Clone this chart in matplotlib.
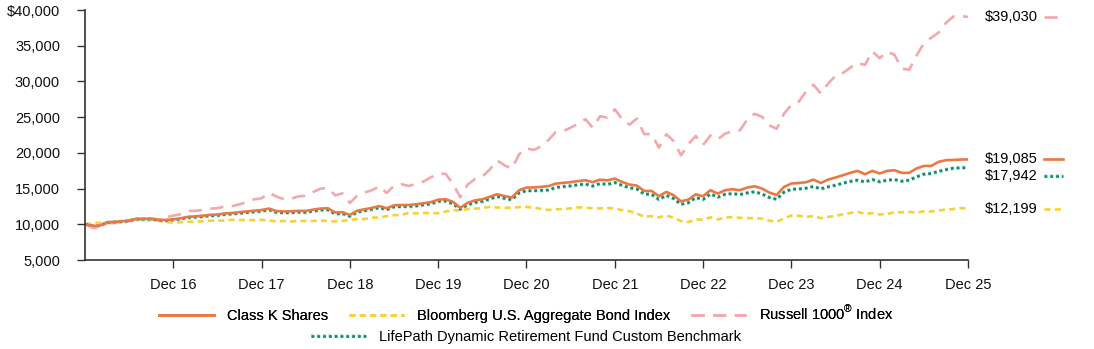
import numpy as np
import matplotlib.pyplot as plt
import matplotlib.patheffects as pe
from matplotlib.lines import Line2D

plt.rcParams['font.family'] = ['Liberation Sans', 'DejaVu Sans']
plt.rcParams['mathtext.fontset'] = 'custom'
plt.rcParams['mathtext.rm'] = 'Liberation Sans'

# month-end values, Dec 2015 .. Dec 2025
class_k = [10000,
           9780, 9800, 10280, 10340, 10400, 10540, 10780, 10780, 10790, 10640, 10600, 10700,
           10830, 11050, 11100, 11200, 11320, 11360, 11520, 11580, 11700, 11800, 11900, 12000,
           12200, 11850, 11800, 11820, 11880, 11870, 12050, 12200, 12250, 11650, 11700, 11300,
           11900, 12100, 12300, 12550, 12250, 12650, 12700, 12700, 12800, 12950, 13100, 13450,
           13500, 13150, 12300, 13000, 13350, 13500, 13850, 14200, 13950, 13750, 14770, 15140,
           15150, 15250, 15350, 15700, 15800, 15900, 16050, 16170, 15900, 16250, 16150, 16400,
           15930, 15560, 15420, 14670, 14670, 13930, 14530, 14070, 13220, 13460, 14200, 13930,
           14770, 14300, 14770, 14910, 14770, 15140, 15330, 15000, 14440, 14110, 15230, 15700,
           15790, 15890, 16260, 15790, 16260, 16550, 16870, 17200, 17480, 17010, 17480, 17110,
           17480, 17570, 17200, 17200, 17810, 18170, 18170, 18740, 18970, 19010, 19060, 19085]

bond_index = [10000,
              10138, 10210, 10304, 10343, 10346, 10532, 10598, 10587, 10580, 10500, 10251, 10265,
              10285, 10355, 10350, 10430, 10510, 10500, 10545, 10640, 10590, 10600, 10585, 10628,
              10510, 10410, 10480, 10400, 10475, 10465, 10470, 10535, 10470, 10385, 10450, 10629,
              10740, 10735, 10940, 10945, 11140, 11280, 11305, 11600, 11540, 11575, 11570, 11556,
              11780, 11990, 11920, 12130, 12190, 12270, 12450, 12350, 12340, 12285, 12410, 12424,
              12335, 12155, 12005, 12100, 12140, 12225, 12360, 12335, 12230, 12225, 12260, 12233,
              11970, 11835, 11505, 11070, 11140, 10965, 11235, 10915, 10445, 10310, 10690, 10641,
              10970, 10685, 10955, 11020, 10905, 10865, 10860, 10790, 10515, 10350, 10820, 11230,
              11200, 11040, 11140, 10860, 11050, 11150, 11410, 11580, 11740, 11450, 11570, 11370,
              11435, 11675, 11680, 11725, 11640, 11820, 11790, 11930, 12060, 12140, 12260, 12199]

russell = [10000,
           9504, 9492, 10135, 10175, 10358, 10385, 10768, 10783, 10785, 10589, 10981, 11205,
           11418, 11871, 11885, 12008, 12177, 12253, 12505, 12544, 12802, 13100, 13502, 13635,
           14416, 13884, 13531, 13582, 13910, 13996, 14517, 14990, 15076, 14045, 14331, 12983,
           14023, 14473, 14754, 15352, 14377, 15390, 15612, 15365, 15652, 15992, 16572, 17064,
           17070, 15690, 13770, 15560, 16330, 16680, 17650, 18950, 18260, 17800, 19800, 20640,
           20400, 20930, 21820, 22940, 23050, 23530, 24040, 24720, 23530, 25140, 24930, 26100,
           24720, 23950, 24810, 22620, 22630, 20730, 22610, 21660, 19640, 21210, 22370, 21107,
           22433, 21886, 22689, 23043, 23142, 24672, 25464, 25059, 23864, 23363, 25496, 26707,
           27156, 28606, 29527, 28322, 29727, 30794, 31170, 31927, 32610, 32314, 34211, 33253,
           34177, 33733, 31834, 31618, 33607, 35318, 36109, 36842, 38187, 39080, 39178, 39030]

benchmark = [10000,
             9790, 9790, 10250, 10300, 10350, 10480, 10710, 10700, 10710, 10560, 10520, 10610,
             10730, 10940, 10990, 11080, 11190, 11230, 11380, 11440, 11550, 11640, 11740, 11830,
             12020, 11670, 11620, 11630, 11690, 11670, 11850, 11990, 12030, 11450, 11500, 11120,
             11710, 11900, 12100, 12330, 12040, 12430, 12480, 12480, 12570, 12720, 12860, 13200,
             13250, 12880, 12100, 12720, 13050, 13200, 13550, 13880, 13630, 13430, 14400, 14700,
             14700, 14750, 14800, 15150, 15280, 15380, 15520, 15640, 15350, 15700, 15580, 15850,
             15450, 15100, 14950, 14220, 14200, 13480, 14050, 13600, 12800, 13020, 13730, 13480,
             14250, 13800, 14200, 14300, 14150, 14400, 14550, 14250, 13750, 13500, 14500, 14900,
             14950, 15050, 15300, 14950, 15250, 15470, 15750, 16000, 16170, 15930, 16260, 15950,
             16170, 16260, 16030, 16170, 16630, 17010, 17110, 17400, 17650, 17850, 17900, 17942]

tick_labels = ["Dec 16", "Dec 17", "Dec 18", "Dec 19", "Dec 20",
               "Dec 21", "Dec 22", "Dec 23", "Dec 24", "Dec 25"]
names = ["Class K Shares", "Bloomberg U.S. Aggregate Bond Index",
         r"Russell 1000$^{\circledR}$ Index",
         "LifePath Dynamic Retirement Fund Custom Benchmark"]

orange = '#EA7842'
yellow = '#F6D234'
pink = '#F2A9AE'
green = '#138A6B'
halo = [pe.Stroke(linewidth=3.2, foreground='#BDEBE3'), pe.Normal()]
fs = 10.5

fig = plt.figure(figsize=(10.94, 3.49), dpi=100)
ax = fig.add_axes([0.0777, 0.255, 0.8071, 0.7163])
x = np.arange(len(class_k))

styles = {
    'k': dict(color=orange, lw=1.9, ls='-'),
    'b': dict(color=yellow, lw=1.9, ls=(0, (2.3, 1.6))),
    'r': dict(color=pink, lw=1.9, ls=(0, (5, 3.2))),
    'g': dict(color=green, lw=1.9, ls=(0, (1.1, 1.1))),
}

ax.plot(x, bond_index, **styles['b'])
ax.plot(x, russell, **styles['r'])
ax.plot(x, benchmark, path_effects=halo, **styles['g'])
ax.plot(x, class_k, **styles['k'])

ax.set_xlim(0, len(class_k) - 1)
ax.set_ylim(5000, 40000)
ax.set_xticks(np.arange(12, len(class_k), 12))
ax.set_xticklabels(tick_labels)
yt = np.arange(5000, 40001, 5000)
ax.set_yticks(yt)
ax.set_yticklabels(["$40,000" if v == 40000 else f"{v:,}" for v in yt])
ax.tick_params(axis='both', direction='out', length=6, width=1, color='#333333',
               labelsize=fs, labelcolor='#111111')
ax.tick_params(axis='x', pad=7)
ax.tick_params(axis='y', pad=12)
for s in ['top', 'right']:
    ax.spines[s].set_visible(False)
for s in ['left', 'bottom']:
    ax.spines[s].set_color('#333333')
    ax.spines[s].set_linewidth(1.2)

# end-value labels with a short line sample
ends = [(russell[-1], russell[-1], 'r'), (class_k[-1], class_k[-1], 'k'),
        (benchmark[-1], 16750, 'g'), (bond_index[-1], bond_index[-1], 'b')]
for val, ypos, key in ends:
    ax.text(1.019, ypos, f"${val:,}", transform=ax.get_yaxis_transform(),
            ha='left', va='center', fontsize=fs, clip_on=False)
    ln = Line2D([1.086, 1.108], [ypos, ypos], transform=ax.get_yaxis_transform(),
                clip_on=False, **styles[key])
    if key == 'g':
        ln.set_path_effects(halo)
    ax.add_line(ln)

h = [Line2D([], [], **styles[k]) for k in ['k', 'b', 'r']]
hg = Line2D([], [], path_effects=halo, **styles['g'])
leg1 = fig.legend(h, names[:3], loc='center', bbox_to_anchor=(0.481, 0.1),
                  ncol=3, frameon=False, fontsize=fs, handlelength=3.8,
                  columnspacing=1.4, handletextpad=0.9)
leg2 = fig.legend([hg], names[3:], loc='center', bbox_to_anchor=(0.481, 0.034),
                  frameon=False, fontsize=fs, handlelength=3.8, handletextpad=0.9)
fig.add_artist(leg1)

fig.savefig('out.png', dpi=100)
